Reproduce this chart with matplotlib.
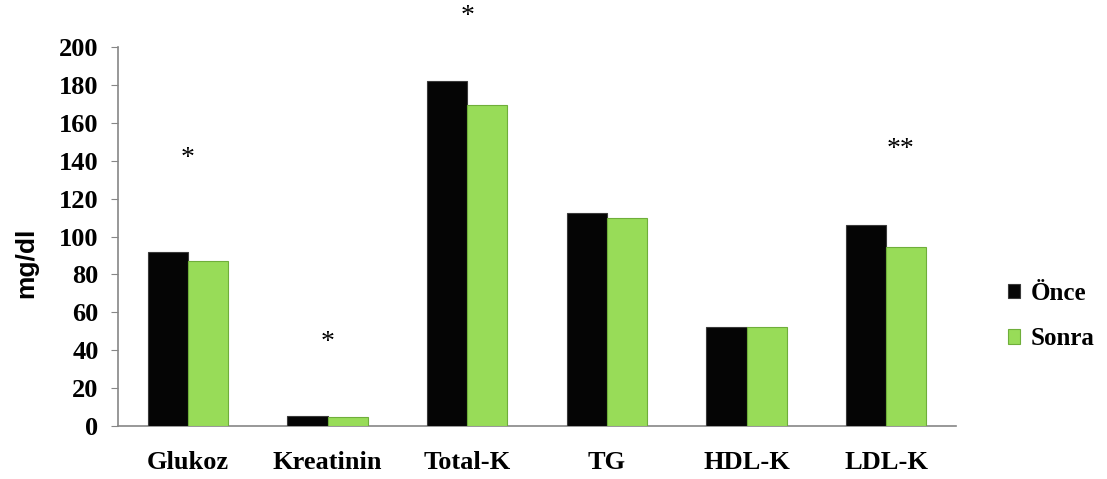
import matplotlib
matplotlib.use("Agg")
import matplotlib.pyplot as plt
import numpy as np

categories = ["Glukoz", "Kreatinin", "Total-K", "TG", "HDL-K", "LDL-K"]
once = [92, 5.5, 182, 112.5, 52.5, 106]
sonra = [87, 5, 169.5, 109.5, 52.5, 94.5]
series_names = ["Önce", "Sonra"]
sig_labels = ["*", "*", "*", "", "", "**"]
sig_heights = [141, 44, 216, None, None, 146]
yticks = list(range(0, 201, 20))

fig = plt.figure(figsize=(11.07, 4.79), dpi=100)
ax = fig.add_axes([118/1107, 1 - 426/479, (956-118)/1107, (426-47)/479])

x = np.arange(len(categories))
w = 0.287
serif = "Liberation Serif"
ax.bar(x - w/2, once, w, color="#050505", edgecolor="#3a3a3a", linewidth=0.8,
       label=series_names[0], zorder=3)
ax.bar(x + w/2, sonra, w, color="#98dc58", edgecolor="#6fae3a", linewidth=0.8,
       label=series_names[1], zorder=3)

for i, (lab, h) in enumerate(zip(sig_labels, sig_heights)):
    if lab:
        xo = 0.1 if lab == "**" else 0
        ax.text(i + xo, h, lab, ha="center", va="center", fontsize=20,
                family=serif, clip_on=False)

ax.set_xlim(-0.5, len(categories) - 0.5)
ax.set_ylim(0, 200)
ax.set_yticks(yticks)
ax.set_xticks(x)
ax.set_xticklabels(categories, fontsize=19, fontweight="bold", family=serif)
for t in ax.get_yticklabels():
    t.set_fontsize(19); t.set_fontweight("bold"); t.set_family(serif)
ax.tick_params(axis="x", length=0, pad=18)
ax.tick_params(axis="y", length=5, color="#868686", pad=9)
ax.set_ylabel("mg/dl", fontsize=19, fontweight="bold", family="Liberation Sans")
ax.yaxis.set_label_coords(-0.095, 0.43)
for s in ["top", "right"]:
    ax.spines[s].set_visible(False)
for s in ["left", "bottom"]:
    ax.spines[s].set_color("#868686")
    ax.spines[s].set_linewidth(1.2)

ax.legend(loc="center left", bbox_to_anchor=(1.035, 0.29), frameon=False,
          prop={"family": serif, "weight": "bold", "size": 18},
          handlelength=0.5, handleheight=0.5, handletextpad=0.4, labelspacing=0.9)

fig.savefig("out.png", dpi=100)
